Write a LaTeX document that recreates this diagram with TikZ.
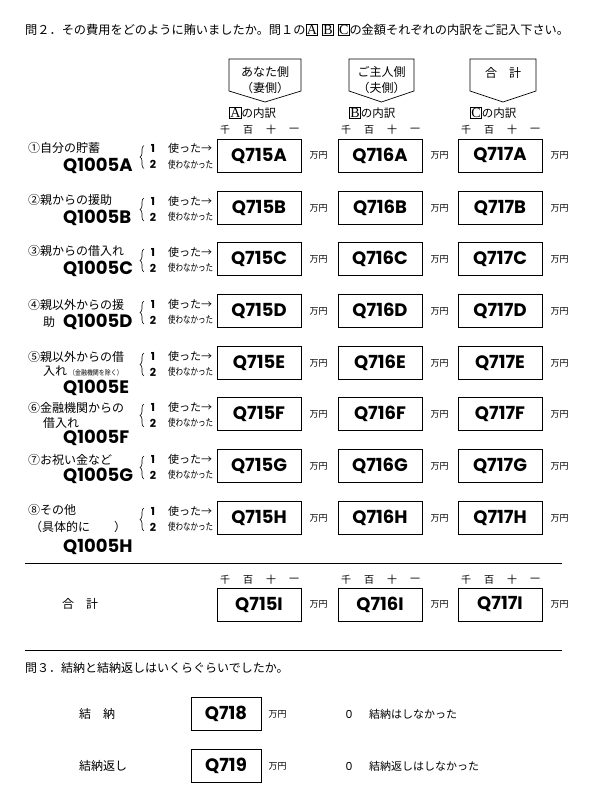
\documentclass[tikz,border=0pt]{standalone}
\usepackage{fontspec}
\usepackage{graphicx}
\setmainfont{Noto Sans CJK JP}
\newfontfamily\qfont{Poppins}
\newfontfamily\letfont{Liberation Serif}
\usetikzlibrary{positioning,decorations.pathreplacing}

\newcommand{\boxlet}[1]{{\setlength{\fboxsep}{0.5pt}\setlength{\fboxrule}{0.7pt}\fbox{\letfont\fontsize{14}{14}\selectfont #1}}}

\tikzset{
	ans/.style={draw, line width=0.8pt, minimum width=84pt, minimum height=33pt, inner sep=0pt, font=\qfont\bfseries\fontsize{18}{18}\selectfont},
	code/.style={anchor=west, inner sep=0pt, font=\qfont\bfseries\fontsize{18}{18}\selectfont},
	lbl/.style={anchor=west, inner sep=0pt, font=\fontsize{12}{12}\selectfont},
	unit/.style={anchor=west, inner sep=0pt, font=\fontsize{9}{9}\selectfont},
	digit/.style={inner sep=0pt, font=\fontsize{10}{10}\selectfont},
	use/.style={anchor=west, inner sep=0pt, font=\fontsize{11}{11}\selectfont},
	num/.style={inner sep=0pt, font=\qfont\bfseries\fontsize{11}{11}\selectfont},
	head/.style={inner sep=0pt, align=center, font=\fontsize{12}{15.5}\selectfont},
}

\begin{document}
\begin{tikzpicture}[x=1pt, y=-1pt]
	\useasboundingbox (0,0) rectangle (601,804);
	
	\node[lbl, font=\fontsize{12.2}{12.2}\selectfont] (title2) at (25,30) {問２．その費用をどのように賄いましたか。問１の\boxlet{A}\hspace{4pt}\boxlet{B}\hspace{4pt}\boxlet{C}の金額それぞれの内訳をご記入下さい。};
	
	% column heads
	\foreach \h/\xl/\xr/\txt in {A/229/301/{あなた側\\（妻側）}, B/349/414/{ご主人側\\（夫側）}, C/470/536/{合　計\\\mbox{}}}{
		\draw[line width=0.7pt] (\xl,59) -- (\xr,59) -- (\xr,91) -- ({(\xl+\xr)/2},102) -- (\xl,91) -- cycle;
		\node[head] (head\h) at ({(\xl+\xr)/2},80) {\txt};
		\node[lbl, font=\fontsize{11.5}{11.5}\selectfont] (part\h) at (\xl,113) {\boxlet{\h}の内訳};
	}
	
	% place digits
	\foreach \xl in {217,338,458}{
		\foreach \d/\dx in {千/8,百/31,十/54,一/77}{
			\node[digit] at (\xl+\dx,130) {\d};
			\node[digit] at (\xl+\dx,580) {\d};
		}
	}
	
	% rows of answers
	\foreach \r/\cy in {A/155.5, B/208, C/259, D/311, E/363, F/414, G/466, H/518}{
		\draw[line width=0.6pt, decorate, decoration={brace, amplitude=4pt}] (144,\cy+13) -- (144,\cy-10);
		\node[num] (one\r) at (153,\cy-7) {1};
		\node[num] (two\r) at (153,\cy+9) {2};
		\node[use] (yes\r) at (168,\cy-7) {使った→};
		\node[use, font=\fontsize{10}{10}\selectfont] (no\r) at (168,\cy+9) {\scalebox{0.75}[1]{使わなかった}};
		\foreach \col/\xl in {715/217, 716/338, 717/458}{
			\node[ans] (q\col\r) at (\xl+42,\cy) {Q\col\r};
			\node[unit, right=8pt of q\col\r] (u\col\r) {万円};
		}
	}
	
	% row labels
	\node[lbl] (labA) at (28,147.5) {①自分の貯蓄};
	\node[code] (codeA) at (63,165.5) {Q1005A};
	\node[lbl] (labB) at (28,200) {②親からの援助};
	\node[code] (codeB) at (63,218) {Q1005B};
	\node[lbl] (labC) at (28,251) {③親からの借入れ};
	\node[code] (codeC) at (63,269) {Q1005C};
	\node[lbl] (labD) at (28,305) {④親以外からの援};
	\node[lbl] (labDD) at (43,322) {助};
	\node[code] (codeD) at (63,322) {Q1005D};
	\node[lbl] (labE) at (28,357) {⑤親以外からの借};
	\node[lbl] (labEE) at (43,371) {入れ\,{\fontsize{7}{7}\selectfont\scalebox{0.85}[1]{（金融機関を除く）}}};
	\node[code] (codeE) at (63,388) {Q1005E};
	\node[lbl] (labF) at (28,408) {⑥金融機関からの};
	\node[lbl] (labFF) at (43,423) {借入れ};
	\node[code] (codeF) at (63,438) {Q1005F};
	\node[lbl] (labG) at (28,460) {⑦お祝い金など};
	\node[code] (codeG) at (63,476) {Q1005G};
	\node[lbl] (labH) at (28,510) {⑧その他};
	\node[lbl] (labHH) at (30,527) {（具体的に　　）};
	\node[code] (codeH) at (63,547) {Q1005H};
	
	% total
	\draw[line width=0.8pt] (25,563) -- (562,563);
	\node[lbl] (labI) at (62,604) {合　計};
	\foreach \col/\xl in {715/217, 716/338, 717/458}{
		\node[ans] (q\col I) at (\xl+42,604.5) {Q\col I};
		\node[unit, right=8pt of q\col I] (u\col I) {万円};
	}
	\draw[line width=0.8pt] (25,650) -- (562,650);
	
	% question 3
	\node[lbl] (title3) at (25,668) {問３．結納と結納返しはいくらぐらいでしたか。};
	\node[lbl] (labY) at (79,714) {結　納};
	\node[ans, minimum width=70pt] (q718) at (226,714) {Q718};
	\node[unit, right=7pt of q718] (u718) {万円};
	\node[num, font=\qfont\fontsize{11}{11}\selectfont] (zero718) at (349,714) {0};
	\node[lbl, font=\fontsize{11}{11}\selectfont] (no718) at (369,714) {結納はしなかった};
	\node[lbl] (labZ) at (79,766) {結納返し};
	\node[ans, minimum width=70pt] (q719) at (226,766) {Q719};
	\node[unit, right=7pt of q719] (u719) {万円};
	\node[num, font=\qfont\fontsize{11}{11}\selectfont] (zero719) at (349,766) {0};
	\node[lbl, font=\fontsize{11}{11}\selectfont] (no719) at (369,766) {結納返しはしなかった};
\end{tikzpicture}
\end{document}
